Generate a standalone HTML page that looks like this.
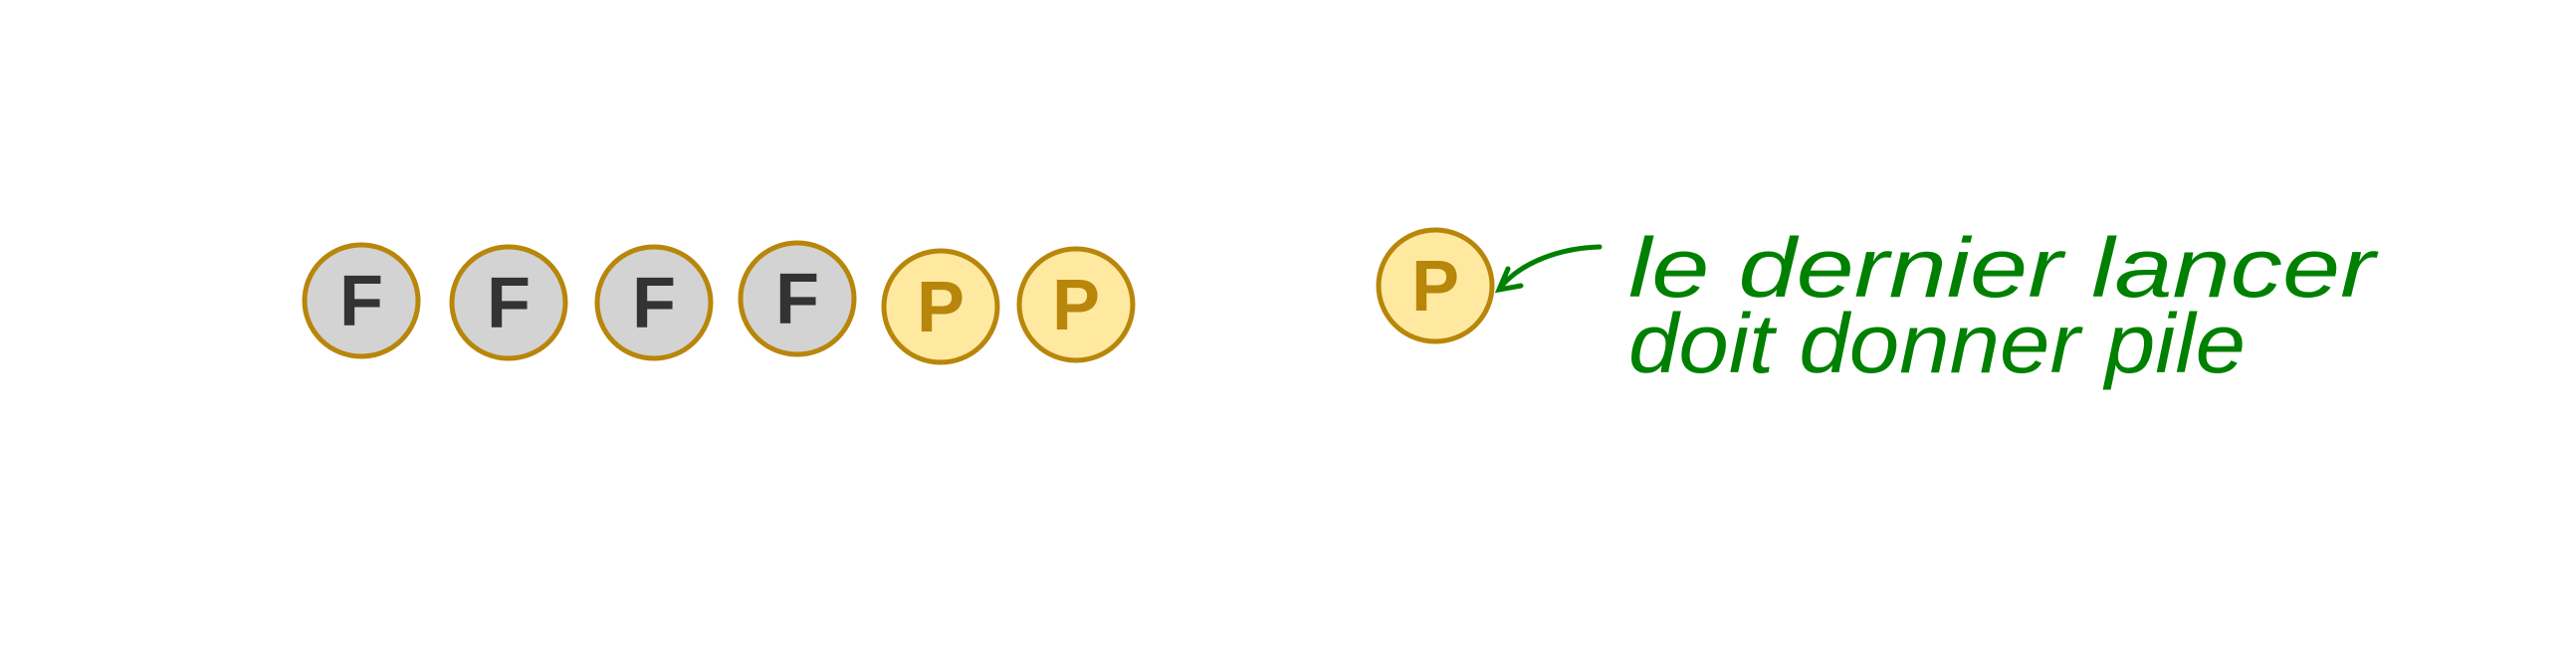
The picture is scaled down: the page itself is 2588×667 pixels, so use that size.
<!DOCTYPE html>
<html><head><meta charset="utf-8"><style>html,body{margin:0;padding:0;background:#fff}</style></head>
<body>
<svg width="2588" height="662" xmlns="http://www.w3.org/2000/svg">
<g stroke="#b8860b" stroke-width="5">
<ellipse cx="363" cy="302" rx="57" ry="56" fill="#d3d3d3"/>
<ellipse cx="511" cy="304" rx="57" ry="56" fill="#d3d3d3"/>
<ellipse cx="657" cy="304" rx="57" ry="56" fill="#d3d3d3"/>
<ellipse cx="801" cy="300" rx="57" ry="56" fill="#d3d3d3"/>
<ellipse cx="945" cy="308" rx="57" ry="56" fill="#ffe9a0"/>
<ellipse cx="1081" cy="306" rx="57" ry="56" fill="#ffe9a0"/>
<ellipse cx="1442" cy="287" rx="57" ry="56" fill="#ffe9a0"/>
</g>
<g font-family="Liberation Sans, sans-serif" font-size="72" font-weight="bold" text-anchor="middle">
<text x="363" y="327" fill="#333">F</text>
<text x="511" y="329" fill="#333">F</text>
<text x="657" y="329" fill="#333">F</text>
<text x="801" y="325" fill="#333">F</text>
<text x="945" y="333" fill="#b8860b">P</text>
<text x="1081" y="331" fill="#b8860b">P</text>
<text x="1442" y="312" fill="#b8860b">P</text>
</g>
<g stroke="#008000" stroke-width="5" fill="none" stroke-linecap="round">
<path d="M1607 248 C1570 249 1530 262 1508 288"/>
<path d="M1515 270 L1506 291 L1528 287"/>
</g>
<g font-family="Liberation Sans, sans-serif" font-style="italic" font-size="84" fill="#008000">
<text x="1636" y="298" textLength="750" lengthAdjust="spacingAndGlyphs">le dernier lancer</text>
<text x="1636" y="374" textLength="620" lengthAdjust="spacingAndGlyphs">doit donner pile</text>
</g>
</svg>
</body></html>
